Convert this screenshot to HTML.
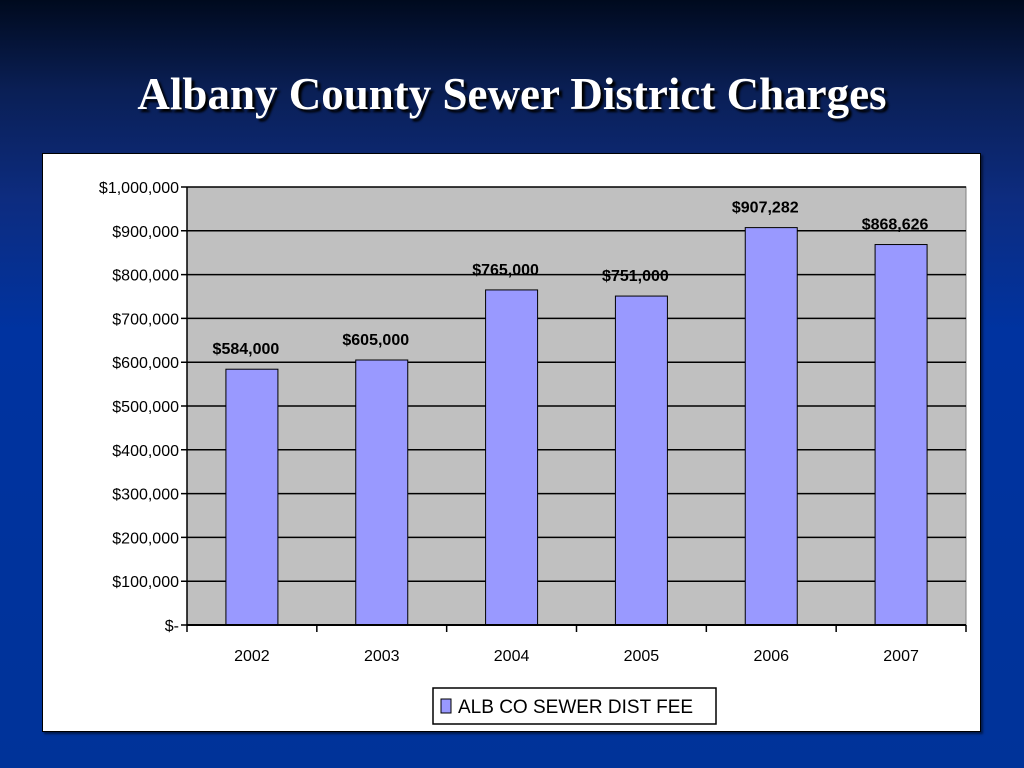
<!DOCTYPE html>
<html><head><meta charset="utf-8"><style>
html,body{margin:0;padding:0}
body{width:1024px;height:768px;overflow:hidden;position:relative;background:linear-gradient(to bottom,#000a1e 0px,#0a1f55 90px,#0d2c80 200px,#0033a0 330px,#003399 768px);font-family:"Liberation Sans",sans-serif}
#title{position:absolute;left:0;width:1024px;top:68px;text-align:center;font-family:"Liberation Serif",serif;font-weight:bold;font-size:45px;color:#fff;text-shadow:3px 3px 2px #000}
#panel{position:absolute;left:42px;top:153px;width:937px;height:577px;background:#fff;border:1px solid #000;box-shadow:2px 2px 2px rgba(0,0,0,.5)}
svg{position:absolute;left:0;top:0}
</style></head><body>
<div id="title">Albany County Sewer District Charges</div>
<div id="panel"></div>
<svg id="chart" width="1024" height="768"></svg>
<script>
const categories=["2002","2003","2004","2005","2006","2007"];
const values=[584000,605000,765000,751000,907282,868626];
const valueLabels=["$584,000","$605,000","$765,000","$751,000","$907,282","$868,626"];
const yTicks=[0,100000,200000,300000,400000,500000,600000,700000,800000,900000,1000000];
const yTickLabels=["$-","$100,000","$200,000","$300,000","$400,000","$500,000","$600,000","$700,000","$800,000","$900,000","$1,000,000"];
const NS="http://www.w3.org/2000/svg";
const svg=document.getElementById('chart');
const L=187,R=966,T=187,B=625,maxV=1000000;
const y=v=>B-(v/maxV)*(B-T);
const cw=(R-L)/categories.length;
const x=i=>L+cw*(i+0.5);
function mk(tag,attrs,parent){const e=document.createElementNS(NS,tag);for(const k in attrs)e.setAttribute(k,attrs[k]);(parent||svg).appendChild(e);return e;}
let e=mk('rect',{x:L,y:T,width:R-L,height:B-T,fill:'#c0c0c0',stroke:'#808080'});


yTicks.forEach((t,i)=>{
  const g=mk('line',{x1:L-6,x2:R,y1:y(t),y2:y(t),stroke:'#000','stroke-width':1.5});
  
  
  const tx=mk('text',{x:L-8,y:y(t)+6,'text-anchor':'end','font-size':16,fill:'#000'});
  tx.textContent=yTickLabels[i];
  
  
});
for(let i=0;i<=categories.length;i++){
  const tk=mk('line',{x1:L+cw*i,x2:L+cw*i,y1:B,y2:B+7,stroke:'#000','stroke-width':1.5});
  
  
}
mk('line',{x1:L,x2:L,y1:T,y2:B,stroke:'#000','stroke-width':1.5});
const bw=52;
categories.forEach((c,i)=>{
  const b=mk('rect',{x:x(i)-bw/2,y:y(values[i]),width:bw,height:B-y(values[i]),fill:'#9999ff',stroke:'#000','stroke-width':1});
  
  
  const v=mk('text',{x:x(i)-6,y:y(values[i])-15,'text-anchor':'middle','font-size':16,'font-weight':'bold',fill:'#000'});
  v.textContent=valueLabels[i];
  
  
  const xl=mk('text',{x:x(i),y:B+36,'text-anchor':'middle','font-size':16,fill:'#000'});
  xl.textContent=c;
  
  
});
mk('line',{x1:L,x2:R,y1:B,y2:B,stroke:'#000','stroke-width':2});
const lg=mk('g',{});


mk('rect',{x:433,y:688,width:283,height:36,fill:'#fff',stroke:'#000','stroke-width':1.5},lg);
mk('rect',{x:441,y:699,width:10,height:14,fill:'#9999ff',stroke:'#000'},lg);
const lt=mk('text',{x:458,y:713,'font-size':19,fill:'#000'},lg);
lt.textContent='ALB CO SEWER DIST FEE';


</script>
</body></html>
